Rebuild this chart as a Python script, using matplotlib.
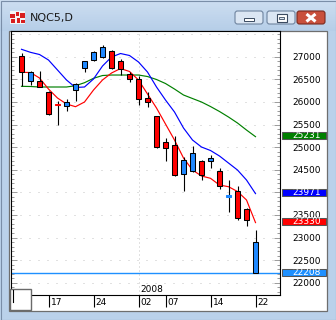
import matplotlib
matplotlib.use("Agg")
import matplotlib.pyplot as plt
from matplotlib.patches import Rectangle, FancyBboxPatch
import matplotlib.transforms as mtransforms
import numpy as np

# ---------------- data ----------------
dates = ["12", "13", "14", "17", "18", "19", "20", "21", "24", "26", "27", "28", "31",
         "02", "03", "04", "07", "08", "09", "10", "11", "14", "15", "16", "17", "18", "22"]
opens = [27015, 26469, 26456, 26219, 25938, 25903, 26257, 26743, 26920, 26987, 27119, 26898, 26611,
         26500, 26080, 25681, 25106, 25040, 24416, 24471, 24686, 24693, 24471, 23907, 24029, 23631, 22208]
highs = [27088, 26684, 26684, 26241, 26027, 26057, 26418, 26905, 27119, 27259, 27142, 26942, 26655,
         26566, 26226, 25688, 25201, 25246, 24788, 25024, 24715, 24819, 24531, 24272, 24146, 23659, 23166]
lows = [26358, 26374, 26319, 25721, 25496, 25805, 26013, 26668, 26916, 26982, 26721, 26595, 26434,
        25938, 25894, 24987, 24686, 24350, 24035, 24449, 24265, 24531, 24080, 23571, 23387, 23248, 22208]
closes = [26668, 26655, 26323, 25726, 25925, 25998, 26396, 26898, 27097, 27208, 26743, 26728, 26500,
          26058, 25991, 25009, 24973, 24372, 24715, 24869, 24372, 24765, 24146, 23918, 23425, 23381, 22894]
ma_red = [26655, 26650, 26529, 26285, 26086, 25954, 25894, 25998, 26263, 26485, 26639, 26739, 26673,
          26485, 26175, 25865, 25511, 25157, 24759, 24493, 24361, 24310, 24161, 24124, 24018, 23830, 23330]
ma_blue = [27164, 27097, 27049, 26927, 26706, 26485, 26319, 26330, 26507, 26794, 26993, 27071, 27027,
           26883, 26661, 26330, 26042, 25777, 25423, 25157, 25002, 24925, 24803, 24648, 24493, 24272, 23971]
ma_green = [26345, 26341, 26330, 26330, 26330, 26330, 26358, 26425, 26522, 26584, 26595, 26595, 26595,
            26595, 26562, 26496, 26407, 26285, 26153, 26075, 25998, 25898, 25788, 25666, 25533, 25378, 25231]
tick_dates = ["17", "24", "02", "07", "14", "22"]
tick_idx = [3, 8, 13, 16, 21, 26]
year_label = "2008"
year_idx = 13
y_ticks = [22000, 22500, 23000, 23500, 24000, 24500, 25000, 25500, 26000, 26500, 27000]
last_price = 22208
tag_values = [25231, 23971, 23330, 22208]
title = "NQC5,D"

# ---------------- styles ----------------
RED = "#ff0000"
CBLUE = "#1e88ff"
MBLUE = "#0000ff"
GREEN = "#008000"
LBLUE = "#1e90ff"
tag_faces = [GREEN, MBLUE, RED, LBLUE]
FS = 6.5

W, H = 336, 320
fig = plt.figure(figsize=(W / 100, H / 100), dpi=100)

# window chrome
ax_bg = fig.add_axes([0, 0, 1, 1])
ax_bg.set_xlim(0, W)
ax_bg.set_ylim(H, 0)
ax_bg.axis("off")
grad = np.linspace(0, 1, 64).reshape(-1, 1)
top_c = np.array([205, 222, 241]) / 255
bot_c = np.array([182, 206, 232]) / 255
img = top_c + (bot_c - top_c) * grad[..., None]
ax_bg.imshow(img.reshape(64, 1, 3), extent=(0, W, 31, 0), aspect="auto", zorder=0)
ax_bg.add_patch(Rectangle((0, 31), W, H - 31, facecolor="#bad1ea", edgecolor="none", zorder=0))
ax_bg.add_patch(Rectangle((0.5, 0.5), W - 1, H - 1, facecolor="none", edgecolor="#7a8ea8", lw=0.8, zorder=1))
# chart panel
ax_bg.add_patch(Rectangle((8.5, 30.5), 318, 280, facecolor="white", edgecolor="#6e6e6e", lw=0.9, zorder=1))
# icon
ax_bg.add_patch(Rectangle((10, 11), 15, 13, facecolor="#f4f4f4", edgecolor="none", zorder=2))
for (x0, y0, w, h) in [(10, 14, 5, 4), (16, 12, 3, 4), (20, 13, 5, 5), (11, 19, 4, 4), (17, 18, 3, 5), (21, 20, 4, 3)]:
    ax_bg.add_patch(Rectangle((x0, y0), w, h, facecolor="#d81e1e", edgecolor="none", zorder=3))
ax_bg.text(30, 17.5, title, fontsize=8, color="#1a1a1a", va="center", ha="left", zorder=3)
# buttons
for (x0, fc, ec) in [(235, "#dbe6f3", "#6f849f"), (267, "#dbe6f3", "#6f849f"), (297, "#c9503c", "#7a2a1e")]:
    ax_bg.add_patch(FancyBboxPatch((x0, 11), 28, 13, boxstyle="round,pad=0,rounding_size=2.5",
                                   facecolor=fc, edgecolor=ec, lw=0.8, zorder=2))
ax_bg.add_patch(Rectangle((244, 18), 10, 3, facecolor="white", edgecolor="#3a4a60", lw=0.7, zorder=3))
ax_bg.add_patch(Rectangle((276.5, 14), 10, 7.5, facecolor="white", edgecolor="#3a4a60", lw=0.8, zorder=3))
ax_bg.add_patch(Rectangle((279, 16.5), 5, 2.5, facecolor="#dbe6f3", edgecolor="#3a4a60", lw=0.6, zorder=4))
ax_bg.plot([306.5, 315.5], [14, 21.5], color="white", lw=2.2, solid_capstyle="butt", zorder=3)
ax_bg.plot([306.5, 315.5], [21.5, 14], color="white", lw=2.2, solid_capstyle="butt", zorder=3)

# ---------------- main axes ----------------
def px_axes(x0, y0, x1, y1):
    return [x0 / W, 1 - y1 / H, (x1 - x0) / W, (y1 - y0) / H]

ax = fig.add_axes(px_axes(11, 31, 280, 295))
ax.set_zorder(1)
ax.set_facecolor("white")
n = len(opens)
idx = np.arange(n)
ax.set_xlim((11 - 21.5) / 9, (280 - 21.5) / 9)
ax.set_ylim(21728, 27569)

for v in list(y_ticks) + [27500]:
    ax.axhline(v, color="#c4c4c4", lw=0.72, ls=(0, (1, 8)), zorder=0.5)
ax.axvline(year_idx, color="#c4c4c4", lw=0.72, ls=(0, (1, 3)), zorder=0.5)
ax.axhline(last_price, color=LBLUE, lw=1.0, zorder=1.5)

ax.plot(idx, ma_green, color=GREEN, lw=0.85, zorder=2)
ax.plot(idx, ma_blue, color=MBLUE, lw=0.85, zorder=2)
ax.plot(idx, ma_red, color=RED, lw=0.85, zorder=2)

o = np.array(opens); c = np.array(closes)
face = [CBLUE if cc > oo else RED for oo, cc in zip(o, c)]
edge = ["black" if abs(cc - oo) > 40 else f for oo, cc, f in zip(o, c, face)]
bottoms = np.minimum(o, c)
heights = np.maximum(np.abs(c - o), 30)
ax.vlines(idx, lows, highs, color="black", lw=0.8, zorder=3)
ax.bar(idx, heights, bottom=bottoms, width=0.47, color=face, edgecolor=edge, linewidth=0.75, zorder=4)

for s in ax.spines.values():
    s.set_color("black")
    s.set_linewidth(0.8)

ax.set_xticks(tick_idx)
ax.set_xticklabels([""] * len(tick_idx))
ax.tick_params(axis="x", direction="out", length=8.8, width=0.8, color="black")
off = mtransforms.offset_copy(ax.get_xaxis_transform(), fig=fig, x=2.0, y=-7.5, units="dots")
for i, lab in zip(tick_idx, tick_dates):
    ax.text(i, 0, lab, transform=off, fontsize=FS, ha="left", va="center", color="black", clip_on=False)
off2 = mtransforms.offset_copy(ax.get_xaxis_transform(), fig=fig, x=1.5, y=5.0, units="dots")
ax.text(year_idx, 0, year_label, transform=off2, fontsize=FS, ha="left", va="center", color="black")

ax.yaxis.tick_right()
ax.set_yticks(y_ticks)
ax.set_yticklabels([str(v) for v in y_ticks])
ax.set_yticks(np.arange(21800, 27600, 100), minor=True)
ax.tick_params(axis="y", which="both", left=True, right=True, labelleft=False, labelright=True,
               direction="in", color="#9a9a9a", width=0.7, labelsize=FS, pad=9.2)
ax.tick_params(axis="y", which="major", length=4)
ax.tick_params(axis="y", which="minor", length=2)

blend = mtransforms.blended_transform_factory(ax.transAxes, ax.transData)
bx0 = (281.7 - 11) / 269
bw = 44 / 269
for val, fc in zip(tag_values, tag_faces):
    ax.add_patch(Rectangle((bx0, val + 20 - 78), bw, 156, transform=blend, facecolor=fc,
                           edgecolor="#555555", lw=0.75, clip_on=False, zorder=6))
    ax.text((292.7 - 11) / 269, val + 20, str(val), transform=blend, fontsize=FS, color="white",
            ha="left", va="center", clip_on=False, zorder=7)

# ---------------- overlay box ----------------
ax_fg = fig.add_axes([0, 0, 1, 1])
ax_fg.set_zorder(3)
ax_fg.patch.set_alpha(0)
ax_fg.set_xlim(0, W)
ax_fg.set_ylim(H, 0)
ax_fg.axis("off")
ax_fg.add_patch(Rectangle((9.5, 288.5), 21, 21, facecolor="white", edgecolor="#6a6a6a", lw=1.0))
ax_fg.plot([13, 13], [290, 302], color="black", lw=0.8)

fig.savefig("out.png", dpi=100)
